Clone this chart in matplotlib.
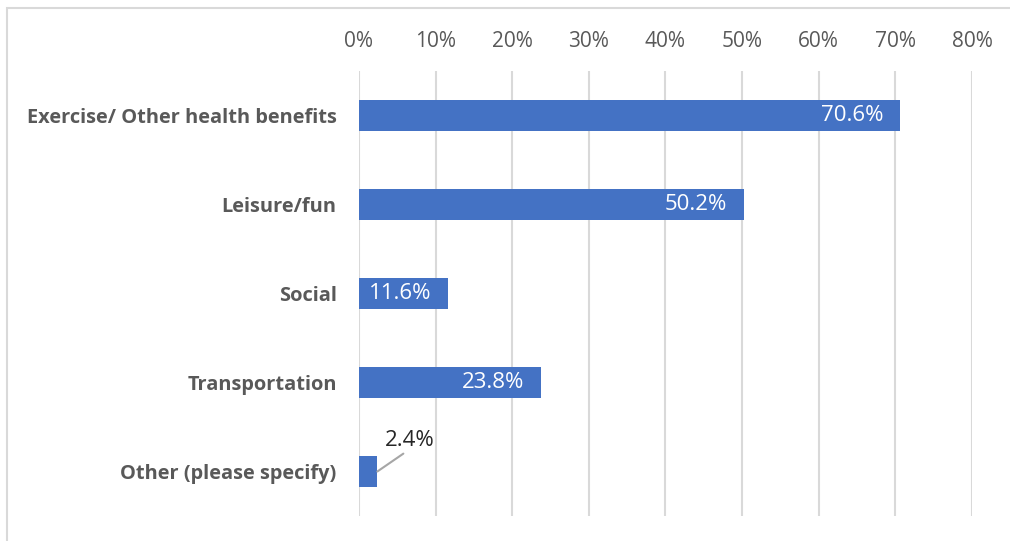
import matplotlib.pyplot as plt
from matplotlib.patches import Rectangle

plt.rcParams['font.family'] = ['Open Sans', 'DejaVu Sans']

# Survey responses: reasons for riding
categories = ["Exercise/ Other health benefits", "Leisure/fun", "Social",
              "Transportation", "Other (please specify)"]
shares = [70.6, 50.2, 11.6, 23.8, 2.4]
tick_values = [0, 10, 20, 30, 40, 50, 60, 70, 80]

bar_color = "#4472C4"
text_gray = "#595959"
grid_gray = "#D9D9D9"

fig = plt.figure(figsize=(10.1, 5.41), dpi=100)
ax = fig.add_axes([0.3554, 0.0462, 0.6070, 0.8226])

# chart border (only the top and left edges fall inside the image)
fig.patches.append(Rectangle((7 / 1010, -0.1), 1.2, 1 - 8 / 541 + 0.1,
                             transform=fig.transFigure, fill=False,
                             edgecolor=grid_gray, linewidth=1.5))

pos = list(range(len(categories)))
ax.barh(pos, shares, height=0.34, color=bar_color, zorder=3)

ax.set_xlim(0, 80)
ax.set_ylim(4.5, -0.5)
ax.set_xticks(tick_values)
ax.set_xticklabels([f"{v}%" for v in tick_values], color=text_gray, fontsize=15)
ax.xaxis.tick_top()
ax.tick_params(axis='x', length=0, pad=14)
ax.set_yticks(pos)
ax.set_yticklabels(categories, color=text_gray, fontsize=14.4, fontweight='bold')
ax.tick_params(axis='y', length=0, pad=16)
ax.grid(axis='x', color=grid_gray, linewidth=1.5, zorder=0)
for s in ax.spines.values():
    s.set_visible(False)

# value labels: inside the bar end, except the tiny one with a leader line
for p, v in zip(pos, shares):
    if v > 5:
        ax.annotate(f"{v}%", xy=(v, p), xytext=(-12, 0), textcoords='offset points',
                    ha='right', va='center', color='white', fontsize=16, zorder=4)
    else:
        ax.annotate(f"{v}%", xy=(v, p), xytext=(v + 1.0, p - 0.35),
                    ha='left', va='center', color='#262626', fontsize=16,
                    arrowprops=dict(arrowstyle='-', color='#A6A6A6', lw=1.5,
                                    shrinkA=0, shrinkB=0,
                                    relpos=(0.45, 0.0)))

fig.savefig("out.png", dpi=100)
